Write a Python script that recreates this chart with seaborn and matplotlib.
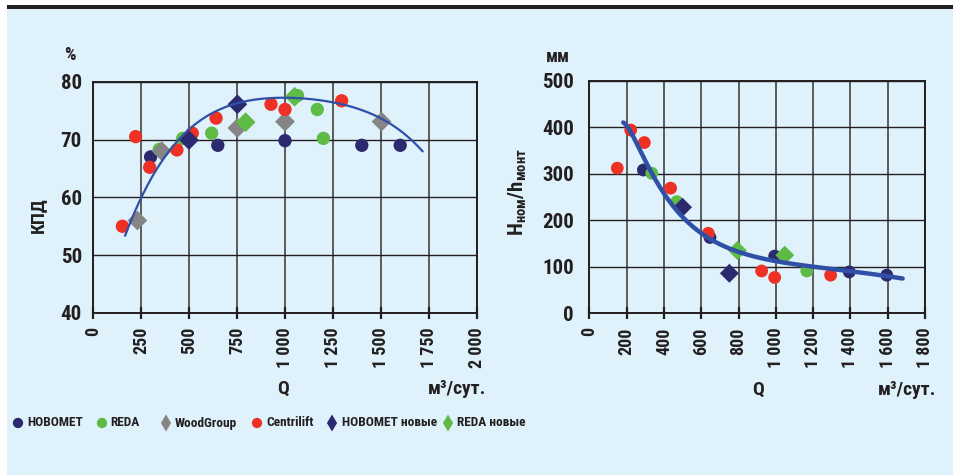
import numpy as np
import pandas as pd
import seaborn as sns
import matplotlib
matplotlib.use("Agg")
import matplotlib.pyplot as plt
from matplotlib import font_manager as fm
from matplotlib.patches import Rectangle

# ---------------- data ----------------
series_names = ["НОВОМЕТ", "REDA", "WoodGroup", "Centrilift", "НОВОМЕТ новые", "REDA новые"]
series_colors = ["#2B2A6E", "#5DBB46", "#858585", "#EE3124", "#2B2A6E", "#5DBB46"]
series_markers = ["o", "o", "D", "o", "D", "D"]

# КПД, %
eff_novomet_q = [300, 650, 1000, 1400, 1600]
eff_novomet_v = [67.0, 69.0, 69.8, 69.0, 69.0]
eff_reda_q = [345, 467, 618, 1065, 1168, 1200]
eff_reda_v = [68.3, 70.2, 71.1, 77.6, 75.2, 70.2]
eff_wood_q = [231, 358, 752, 1000, 1503]
eff_wood_v = [56.0, 68.0, 72.0, 73.1, 73.1]
eff_centr_q = [153, 222, 295, 437, 517, 641, 927, 1000, 1295]
eff_centr_v = [55.0, 70.5, 65.2, 68.2, 71.1, 73.7, 76.1, 75.2, 76.7]
eff_novomet_new_q = [500, 752]
eff_novomet_new_v = [69.9, 76.1]
eff_reda_new_q = [795, 1050]
eff_reda_new_v = [73.0, 77.4]

# trend line of КПД
eff_trend_q = [167, 271, 505, 731, 1000, 1252, 1503, 1717]
eff_trend_v = [53.2, 61.6, 71.6, 76.3, 77.0, 76.7, 73.4, 68.0]

# Hном/hмонт, мм
h_novomet_q = [290, 647, 994, 1394, 1595]
h_novomet_v = [308, 163, 123, 89, 82]
h_reda_q = [335, 469, 1166]
h_reda_v = [301, 240, 91]
h_centr_q = [150, 222, 295, 436, 638, 924, 994, 1294]
h_centr_v = [312, 394, 367, 269, 172, 91, 77, 82]
h_novomet_new_q = [500, 751]
h_novomet_new_v = [228, 86]
h_reda_new_q = [794, 1048]
h_reda_new_v = [135, 125]

# trend line of Hном/hмонт
h_trend_q = [182, 254, 343, 415, 495, 647, 996, 1201, 1398, 1680]
h_trend_v = [410, 365, 301, 243, 208, 161, 118, 97, 87, 77]

eff_xticks = [0, 250, 500, 750, 1000, 1250, 1500, 1750, 2000]
eff_xlabels = ["0", "250", "500", "750", "1 000", "1 250", "1 500", "1 750", "2 000"]
eff_yticks = [40, 50, 60, 70, 80]
h_xticks = [0, 200, 400, 600, 800, 1000, 1200, 1400, 1600, 1800]
h_xlabels = ["0", "200", "400", "600", "800", "1 000", "1 200", "1 400", "1 600", "1 800"]
h_yticks = [0, 100, 200, 300, 400, 500]

# ---------------- fonts ----------------
sns.set_style("white")


def pick_narrow_font():
    entries = fm.fontManager.ttflist
    preferred = ["Liberation Sans Narrow", "Roboto Condensed", "Open Sans Condensed",
                 "DejaVu Sans Condensed", "DejaVu Sans"]
    narrow = [f for f in entries
              if str(f.stretch).lower() in ("condensed", "semi-condensed", "extra-condensed")
              or "narrow" in f.name.lower() or "condensed" in f.name.lower()]
    for fam in preferred:
        for f in narrow:
            if f.name == fam:
                return f.name, str(f.stretch), True
    if narrow:
        return narrow[0].name, str(narrow[0].stretch), True
    return "DejaVu Sans", "normal", False


fam, stretch, is_narrow = pick_narrow_font()
plt.rcParams["font.family"] = [fam, "DejaVu Sans"]
plt.rcParams["font.stretch"] = stretch
plt.rcParams["font.weight"] = "bold"
plt.rcParams["mathtext.default"] = "regular"
K = 1.0 if is_narrow else 0.8  # size factor for wide fallback faces

BG = "#DFF1FB"
INK = "#231F20"
fig = plt.figure(figsize=(9.54, 4.75), dpi=100, facecolor="white")
W, H = 954, 475

# panel background and top rule
fig.patches.append(Rectangle((7 / W, 0), 1 - 7 / W, 1 - 9 / H, transform=fig.transFigure,
                             facecolor=BG, edgecolor="none", zorder=-10))
fig.patches.append(Rectangle((7 / W, 1 - 9 / H), 1 - 7 / W, 4 / H, transform=fig.transFigure,
                             facecolor=INK, edgecolor="none", zorder=-9))


def make_frame(ax, xlim, ylim, xticks, xlabels, yticks, ypad):
    ax.set_facecolor(BG)
    ax.set_xlim(*xlim)
    ax.set_ylim(*ylim)
    ax.set_xticks(xticks)
    ax.set_xticklabels(xlabels, rotation=90, fontsize=13 * K, fontweight="bold", color=INK)
    ax.set_yticks(yticks)
    ax.set_yticklabels([str(v) for v in yticks], fontsize=15 * K, fontweight="bold", color=INK)
    ax.tick_params(axis="x", direction="inout", length=8, width=1.6, color=INK, pad=6,
                   bottom=True)
    ax.tick_params(axis="y", length=0, pad=ypad, left=True)
    for x in xticks:
        ax.axvline(x, color="#5A5A5A", lw=1.4, zorder=0)
    for y in yticks:
        ax.axhline(y, color=INK, lw=1.0, zorder=0)
    for s in ax.spines.values():
        s.set_color(INK)
        s.set_linewidth(1.4)


def scatter_series(ax, qs, vs, idx, size):
    df = pd.DataFrame({"Q": qs, "v": vs})
    m = series_markers[idx]
    s = size if m == "o" else size * 1.1
    sns.scatterplot(data=df, x="Q", y="v", ax=ax, color=series_colors[idx], marker=m,
                    s=s, edgecolor="none", linewidth=0, zorder=3, legend=False)


# ---------------- left: КПД ----------------
ax1 = fig.add_axes([93 / W, 1 - 313 / H, 384 / W, (313 - 81.7) / H])
make_frame(ax1, (0, 2000), (40, 80), eff_xticks, eff_xlabels, eff_yticks, 8)
eff_sets = [(eff_novomet_q, eff_novomet_v, 0), (eff_reda_q, eff_reda_v, 1),
            (eff_wood_q, eff_wood_v, 2), (eff_centr_q, eff_centr_v, 3),
            (eff_novomet_new_q, eff_novomet_new_v, 4), (eff_reda_new_q, eff_reda_new_v, 5)]
for q, v, i in eff_sets:
    scatter_series(ax1, q, v, i, 92)

coef1 = np.polyfit(eff_trend_q, eff_trend_v, 4)
qq1 = np.linspace(min(eff_trend_q), max(eff_trend_q), 200)
sns.lineplot(x=qq1, y=np.polyval(coef1, qq1), ax=ax1, color="#3050A8", lw=1.6, zorder=4)

# ---------------- right: Hном/hмонт ----------------
ax2 = fig.add_axes([589.3 / W, 1 - 313.3 / H, 335.7 / W, (313.3 - 80.7) / H])
make_frame(ax2, (0, 1800), (0, 500), h_xticks, h_xlabels, h_yticks, 11)
h_sets = [(h_novomet_q, h_novomet_v, 0), (h_reda_q, h_reda_v, 1),
          (h_centr_q, h_centr_v, 3), (h_novomet_new_q, h_novomet_new_v, 4),
          (h_reda_new_q, h_reda_new_v, 5)]
for q, v, i in h_sets:
    scatter_series(ax2, q, v, i, 85)

coef2 = np.polyfit(np.log(h_trend_q), h_trend_v, 4)
qq2 = np.linspace(min(h_trend_q), max(h_trend_q), 200)
sns.lineplot(x=qq2, y=np.polyval(coef2, np.log(qq2)), ax=ax2, color="#3050A8", lw=3.2, zorder=4)

# axis titles are placed as free texts below, so clear the automatic ones
for ax in (ax1, ax2):
    ax.set_xlabel("")
    ax.set_ylabel("")

# ---------------- texts ----------------
txt = dict(color=INK, fontweight="bold", ha="center", va="center")
fig.text(70 / W, 1 - 55 / H, "%", fontsize=13 * K, **txt)
fig.text(558 / W, 1 - 57 / H, "мм", fontsize=13 * K, **txt)
fig.text(38 / W, 1 - 215 / H, "КПД", fontsize=14 * K, rotation=90, **txt)
fig.text(518 / W, 1 - 192 / H, r"$\mathregular{H_{ном}/h_{монт}}$", fontsize=15 * K,
         rotation=90, **txt)
fig.text(283 / W, 1 - 389 / H, "Q", fontsize=14 * K, **txt)
fig.text(428 / W, 1 - 389 / H, "м³/сут.", fontsize=14 * K, color=INK, fontweight="bold",
         ha="left", va="center")
fig.text(758 / W, 1 - 390 / H, "Q", fontsize=14 * K, **txt)
fig.text(878 / W, 1 - 390 / H, "м³/сут.", fontsize=14 * K, color=INK, fontweight="bold",
         ha="left", va="center")

# ---------------- legend ----------------
leg = fig.add_axes([0, 0, 1, 1], facecolor="none")
leg.set_xlim(0, W)
leg.set_ylim(H, 0)
leg.axis("off")
leg_marker_x = [18, 102, 166, 257, 332, 448]
leg_text_x = [27, 110, 175, 266, 342, 457]
leg_room = [70, 51, 77, 61, 96, 200]
leg_y = 423
fig.canvas.draw()
renderer = fig.canvas.get_renderer()
leg_texts = []
scale = 1.0
for i, name in enumerate(series_names):
    m = series_markers[i]
    leg.scatter([leg_marker_x[i]], [leg_y], marker=("o" if m == "o" else "d"),
                s=(55 if m == "o" else 75), color=series_colors[i], edgecolor="none", zorder=3)
    t = leg.text(leg_text_x[i], leg_y, name, fontsize=14 * K, fontweight="bold", color=INK,
                 ha="left", va="center")
    w = t.get_window_extent(renderer).width
    scale = min(scale, leg_room[i] / w)
    leg_texts.append(t)
for t in leg_texts:
    t.set_fontsize(t.get_fontsize() * scale)

fig.savefig("out.png", dpi=100, facecolor=fig.get_facecolor())
